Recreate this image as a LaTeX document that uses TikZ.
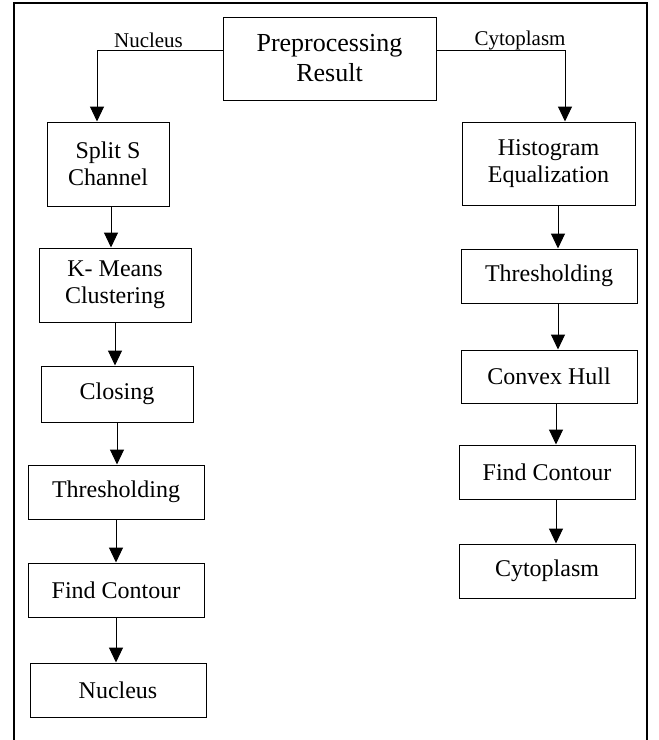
\documentclass[tikz,border=0pt]{standalone}
\usepackage{fontspec}
\setmainfont{Liberation Serif}
\usepackage{tikz}
\usetikzlibrary{positioning,arrows.meta}

\begin{document}
\begin{tikzpicture}[
  x=0.5pt, y=-0.5pt,
  box/.style={rectangle, draw=black, line width=0.5pt, inner sep=0pt,
              minimum width=88pt, minimum height=27pt,
              align=center, font=\fontsize{12}{13.5}\selectfont},
  topbox/.style={box, font=\fontsize{13}{15}\selectfont},
  branch/.style={inner sep=0pt, font=\fontsize{10.5}{12}\selectfont},
  arr/.style={-{Triangle[width=7pt, length=7.5pt]}, line width=0.5pt},
]
\useasboundingbox (0,0) rectangle (659,740);

% Frame
\draw[line width=1pt] (14,740) -- (14,3) -- (647,3) -- (647,740);

% Preprocessing
\node[topbox, minimum width=106.5pt, minimum height=41.5pt] (pre) at (329.5,58.5) {Preprocessing\\Result};
\node[branch] (nuclbl) at (148.5,40) {Nucleus};
\node[branch] (cytolbl) at (520,40) {Cytoplasm};
\coordinate (nucbend) at (97,50);
\coordinate (cytobend) at (565,50);

% Nucleus branch
\node[box, minimum width=61pt, minimum height=42pt] (split) at (108,164) {Split S\\Channel};
\node[box, minimum width=76pt, minimum height=37pt] (kmeans) at (115,285) {K- Means\\Clustering};
\node[box, minimum width=76pt, minimum height=28pt] (closing) at (117,394) {Closing};
\node[box] (threshL) at (116,492) {Thresholding};
\node[box] (contourL) at (116,590) {Find Contour};
\node[box] (nucleus) at (118,690) {Nucleus};

% Cytoplasm branch
\node[box, minimum width=86.5pt, minimum height=41.5pt] (histeq) at (548.5,163.5) {Histogram\\Equalization};
\node[box] (threshR) at (549,276) {Thresholding};
\node[box, minimum height=26.5pt] (hull) at (549,376.5) {Convex Hull};
\node[box] (contourR) at (547,472) {Find Contour};
\node[box] (cytoplasm) at (547,571) {Cytoplasm};

% Arrows from preprocessing
\draw[arr] (pre.west |- nucbend) -- (nucbend) -- (nucbend |- split.north);
\draw[arr] (pre.east |- cytobend) -- (cytobend) -- (cytobend |- histeq.north);

% Nucleus arrows
\draw[arr] ([xshift=1.5pt]split.south) -- ([xshift=-2pt]kmeans.north);
\draw[arr] (kmeans.south) -- (kmeans.south |- closing.north);
\draw[arr] (closing.south) -- (closing.south |- threshL.north);
\draw[arr] (threshL.south) -- (threshL.south |- contourL.north);
\draw[arr] (contourL.south) -- (contourL.south |- nucleus.north);

% Cytoplasm arrows
\draw[arr] ([xshift=4.75pt]histeq.south) -- ([xshift=4.5pt]threshR.north);
\draw[arr] ([xshift=4.5pt]threshR.south) -- ([xshift=4.5pt]hull.north);
\draw[arr] ([xshift=3.5pt]hull.south) -- ([xshift=4.5pt]contourR.north);
\draw[arr] ([xshift=4.5pt]contourR.south) -- ([xshift=4.5pt]cytoplasm.north);

\end{tikzpicture}
\end{document}
